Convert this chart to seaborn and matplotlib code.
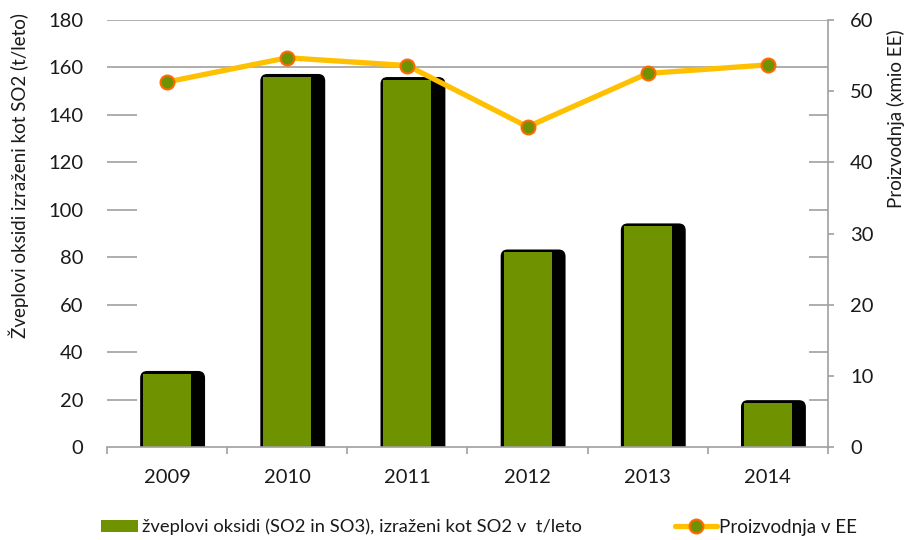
import numpy as np
import pandas as pd
import seaborn as sns
import matplotlib.pyplot as plt
from matplotlib.patches import FancyBboxPatch, Patch
from matplotlib.lines import Line2D

years = ['2009', '2010', '2011', '2012', '2013', '2014']
so2 = [30.8, 156.0, 154.7, 82.0, 93.0, 18.5]
proizvodnja = [51.3, 54.7, 53.6, 45.0, 52.5, 53.7]

bar_label = 'žveplovi oksidi (SO2 in SO3), izraženi kot SO2 v  t/leto'
line_label = 'Proizvodnja v EE'

green = '#6F9200'
yellow = '#FFC000'
orange = '#FF6A00'
grid_c = '#A0A0A0'
txt_c = '#1A1A1A'

sns.set_theme(style='white')
plt.rcParams['font.family'] = ['Lato', 'DejaVu Sans']

df = pd.DataFrame({'leto': years, 'so2': so2})

fig = plt.figure(figsize=(9.06, 5.4), dpi=100)
ax = fig.add_axes([0.1181, 0.1722, 0.7958, 0.7907])

# black "shadow" bars, then green face bars on top
sns.barplot(data=df, x='leto', y='so2', color='black', width=0.54,
            saturation=1, errorbar=None, ax=ax)
shadow = list(ax.patches)
sns.barplot(data=df, x='leto', y='so2', color=green, width=0.40,
            saturation=1, errorbar=None, ax=ax)
faces = ax.patches[len(shadow):]

ax.set_xlim(-0.5, 5.5)
ax.set_ylim(0, 180)

# pixel sizes in data units
px_x = 6 / 721
px_y = 180 / 427
for p in shadow:
    x, w, h = p.get_x(), p.get_width(), p.get_height()
    p.remove()
    box = FancyBboxPatch((x + 0.046, -7 * px_y), w, h + 10 * px_y,
                         boxstyle='round,pad=0,rounding_size=%f' % (7 * px_x),
                         mutation_aspect=px_y / px_x,
                         facecolor='black', edgecolor='none', zorder=1.5)
    ax.add_patch(box)
for p in faces:
    p.set_edgecolor('none')
    p.set_zorder(2)

# gridlines: full at top and 160, short stubs elsewhere
ax.axhline(180, color=grid_c, lw=1.2, zorder=0.5)
ax.axhline(160, color=grid_c, lw=1.2, zorder=0.5)
stubs = list(range(20, 160, 20))
tr = ax.get_yaxis_transform()
ax.hlines(stubs, 0, 30 / 721, transform=tr, color=grid_c, lw=1.2, zorder=0.5)
ax.hlines(stubs, 1 - 19 / 721, 1, transform=tr, color=grid_c, lw=1.2, zorder=0.5)

for s in ['left', 'right', 'top']:
    ax.spines[s].set_visible(False)
ax.spines['bottom'].set_color(grid_c)
ax.spines['bottom'].set_linewidth(1.2)

ax.set_yticks(range(0, 181, 20))
ax.tick_params(axis='y', length=0, pad=17, labelsize=14.5, labelcolor=txt_c)
ax.set_xticks(range(len(years)))
ax.set_xticklabels(years)
ax.set_xticks(np.arange(-0.5, len(years), 1), minor=True)
ax.tick_params(axis='x', which='major', length=0, pad=16, labelsize=14.5,
               labelcolor=txt_c)
ax.tick_params(axis='x', which='minor', bottom=True, length=5, width=1.2,
               color=grid_c, direction='out')
ax.set_xlabel('')
ax.set_ylabel('Žveplovi oksidi izraženi kot SO2 (t/leto)', fontsize=13.5,
              color=txt_c)
ax.yaxis.set_label_coords(-0.108, 0.637)

# production line on right axis
ax2 = ax.twinx()
sns.lineplot(x=np.arange(len(years)), y=proizvodnja, ax=ax2, color=yellow,
             lw=3.8, marker='o', markersize=10, markerfacecolor=green,
             markeredgecolor=orange, markeredgewidth=1.5, zorder=3)
ax2.set_ylim(0, 60)
ax2.set_xlim(-0.5, 5.5)
for s in ['left', 'top', 'bottom']:
    ax2.spines[s].set_visible(False)
ax2.spines['right'].set_color(grid_c)
ax2.spines['right'].set_linewidth(1.2)
ax2.set_yticks(range(0, 61, 10))
ax2.tick_params(axis='y', right=True, length=4, width=1.2, color=grid_c,
                direction='out', pad=12, labelsize=14.5, labelcolor=txt_c)
ax2.set_ylabel('Proizvodnja (xmio EE)', fontsize=13.5, color=txt_c)
ax2.yaxis.set_label_coords(1.082, 0.77)

# legends
fig.legend(handles=[Patch(facecolor=green, edgecolor='none')], labels=[bar_label],
           loc='center left', bbox_to_anchor=(92 / 906, 0.024), frameon=False,
           fontsize=13.2, borderpad=0, handlelength=2.0, handleheight=0.6,
           handletextpad=0.25, labelcolor=txt_c)
fig.legend(handles=[Line2D([0], [0], color=yellow, lw=3.8, marker='o', ms=10,
                           mfc=green, mec=orange, mew=1.5)],
           labels=[line_label], loc='center left',
           bbox_to_anchor=(666 / 906, 0.024), frameon=False, fontsize=13.5,
           borderpad=0, handlelength=2.2, handletextpad=0.15, labelcolor=txt_c)

fig.savefig('out.png', dpi=100)
